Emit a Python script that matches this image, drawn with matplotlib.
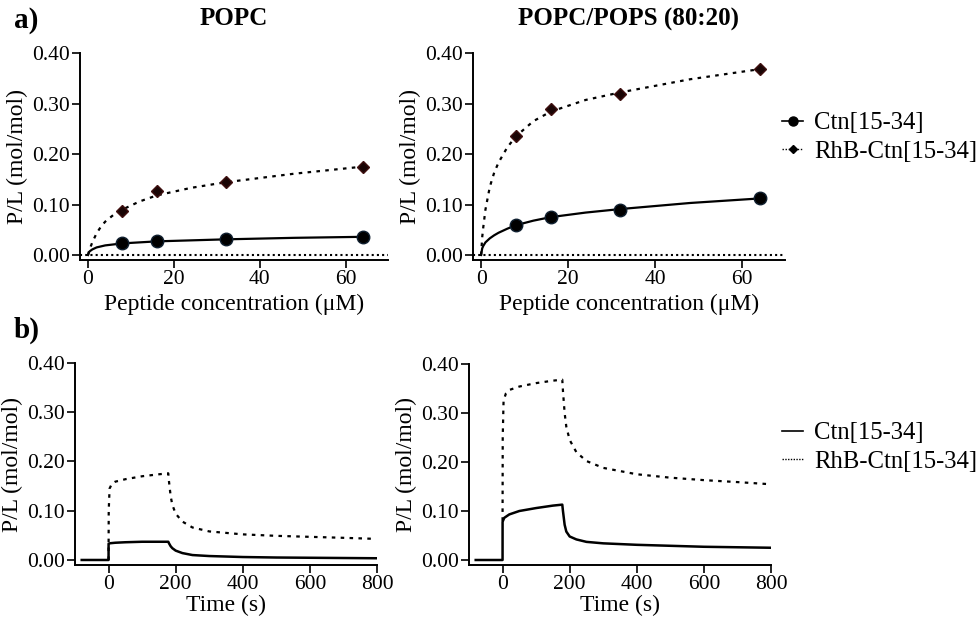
import matplotlib
matplotlib.use("Agg")
import matplotlib.pyplot as plt
from matplotlib.lines import Line2D

plt.rcParams['font.family'] = ['Liberation Serif', 'DejaVu Serif']

# ---- a) binding isotherms -------------------------------------------------
conc = [8, 16, 32, 64]
popc_ctn = [0.023, 0.028, 0.031, 0.036]
popc_rhb = [0.087, 0.126, 0.145, 0.175]
pops_ctn = [0.060, 0.075, 0.090, 0.113]
pops_rhb = [0.236, 0.290, 0.318, 0.368]

# fitted curves
fit_x = [0, 0.25, 0.5, 1, 2, 3, 4, 6, 8, 12, 16, 24, 32, 48, 64]
popc_ctn_fit = [0.0, 0.006, 0.008, 0.011, 0.015, 0.017, 0.019, 0.021, 0.023,
                0.025, 0.027, 0.029, 0.031, 0.034, 0.036]
popc_rhb_fit = [0.0, 0.008, 0.014, 0.025, 0.043, 0.056, 0.066, 0.080, 0.090,
                0.106, 0.118, 0.133, 0.144, 0.161, 0.175]
pops_ctn_fit = [0.0, 0.013, 0.018, 0.025, 0.033, 0.039, 0.044, 0.052, 0.059,
                0.068, 0.075, 0.084, 0.091, 0.103, 0.112]
pops_rhb_fit = [0.0, 0.035, 0.055, 0.090, 0.135, 0.163, 0.183, 0.213, 0.235,
                0.265, 0.284, 0.307, 0.322, 0.348, 0.368]

# ---- b) kinetics -----------------------------------------------------------
t_ctn = [-80, 0, 0.1, 5, 20, 50, 100, 150, 178, 180, 185, 190, 200, 220, 250,
         300, 400, 500, 600, 700, 800]
popc_ctn_t = [0.0, 0.0, 0.033, 0.034, 0.035, 0.036, 0.037, 0.037, 0.037,
              0.034, 0.028, 0.024, 0.019, 0.014, 0.010, 0.008, 0.006, 0.005,
              0.0045, 0.004, 0.0035]
pops_ctn_t = [0.0, 0.0, 0.078, 0.086, 0.093, 0.100, 0.106, 0.111, 0.113,
              0.100, 0.072, 0.058, 0.048, 0.042, 0.037, 0.034, 0.031, 0.029,
              0.027, 0.026, 0.025]
t_rhb = [0, 0.5, 3, 10, 20, 50, 100, 150, 178, 180, 185, 190, 200, 220, 250,
         300, 400, 500, 600, 700, 790]
popc_rhb_t = [0.0, 0.10, 0.145, 0.155, 0.159, 0.164, 0.170, 0.174, 0.176,
              0.160, 0.130, 0.112, 0.094, 0.078, 0.066, 0.058, 0.052, 0.049,
              0.047, 0.045, 0.043]
pops_rhb_t = [0.08, 0.25, 0.325, 0.340, 0.347, 0.354, 0.361, 0.366, 0.368,
              0.345, 0.300, 0.272, 0.245, 0.220, 0.202, 0.188, 0.175, 0.168,
              0.163, 0.159, 0.155]

yticks = [0.0, 0.1, 0.2, 0.3, 0.4]
ytick_labels = ["0.00", "0.10", "0.20", "0.30", "0.40"]
labels = ["Ctn[15-34]", "RhB-Ctn[15-34]"]

fig = plt.figure(figsize=(9.79, 6.27), dpi=100)
W, H = 979.0, 627.0


def make_ax(l, r, t, b):
    return fig.add_axes([l / W, 1 - b / H, (r - l) / W, (b - t) / H])


def style(ax):
    for s in ['top', 'right']:
        ax.spines[s].set_visible(False)
    for s in ['left', 'bottom']:
        ax.spines[s].set_linewidth(1.4)
    ax.tick_params(direction='out', length=6, width=1.2, labelsize=15.5, pad=1.5)
    ax.set_yticks(yticks)
    ax.set_yticklabels(ytick_labels)
    ax.set_ylabel("P/L (mol/mol)", fontsize=17, labelpad=3)


ax1 = make_ax(80, 388, 53, 260)
ax2 = make_ax(473, 785, 53, 260)
ax3 = make_ax(75, 377, 363, 565)
ax4 = make_ax(469, 771, 364, 565)

dot = (0, (1.6, 2.4))
for ax, ctn, rhb, ctn_fit, rhb_fit in [(ax1, popc_ctn, popc_rhb, popc_ctn_fit, popc_rhb_fit),
                                       (ax2, pops_ctn, pops_rhb, pops_ctn_fit, pops_rhb_fit)]:
    ax.axhline(0, color='black', lw=1.5, ls=(0, (1, 1.5)))
    ax.plot(fit_x, ctn_fit, color='black', lw=1.6)
    ax.plot(fit_x, rhb_fit, color='black', lw=1.6, ls=dot)
    ax.plot(conc, ctn, 'o', color='black', mec='#102030', ms=9)
    ax.plot(conc, rhb, 'D', color='#1a0505', mec='#401010', ms=6)
    ax.set_xlim(-1.86, 69.8)
    ax.set_ylim(-0.0099, 0.40)
    ax.set_xticks([0, 20, 40, 60])
    ax.set_xlabel("Peptide concentration (μM)", fontsize=17, labelpad=3)
    style(ax)

for ax, ctn, rhb in [(ax3, popc_ctn_t, popc_rhb_t), (ax4, pops_ctn_t, pops_rhb_t)]:
    ax.plot(t_rhb, rhb, color='black', lw=1.6, ls=dot)
    ax.plot(t_ctn, ctn, color='black', lw=1.8)
    ax.set_xlim(-100, 800)
    ax.set_ylim(-0.0102, 0.40)
    ax.set_xticks([0, 200, 400, 600, 800])
    ax.set_xlabel("Time (s)", fontsize=17, labelpad=0)
    style(ax)

ax1.set_title("POPC", fontsize=18, fontweight='bold', pad=20)
ax2.set_title("POPC/POPS (80:20)", fontsize=18, fontweight='bold', pad=20)
fig.text(14 / W, 1 - 20 / H, "a)", fontsize=21, fontweight='bold', va='center')
fig.text(14 / W, 1 - 330 / H, "b)", fontsize=21, fontweight='bold', va='center')

h_a = [Line2D([], [], color='black', lw=1.2, marker='o', ms=6.5),
       Line2D([], [], color='black', lw=1.0, ls=(0, (1, 1.2)), marker='D', ms=4.5)]
fig.legend(h_a, labels, loc='center left', bbox_to_anchor=(782 / W, 1 - 137.5 / H),
           frameon=False, fontsize=17.8, handlelength=0.85, handletextpad=0.45,
           labelspacing=0.26, borderpad=0, borderaxespad=0)
h_b = [Line2D([], [], color='black', lw=1.2),
       Line2D([], [], color='black', lw=1.0, ls=(0, (1, 1)))]
fig.legend(h_b, labels, loc='center left', bbox_to_anchor=(782 / W, 1 - 447.5 / H),
           frameon=False, fontsize=17.8, handlelength=0.85, handletextpad=0.45,
           labelspacing=0.26, borderpad=0, borderaxespad=0)

fig.savefig("out.png", dpi=100)
